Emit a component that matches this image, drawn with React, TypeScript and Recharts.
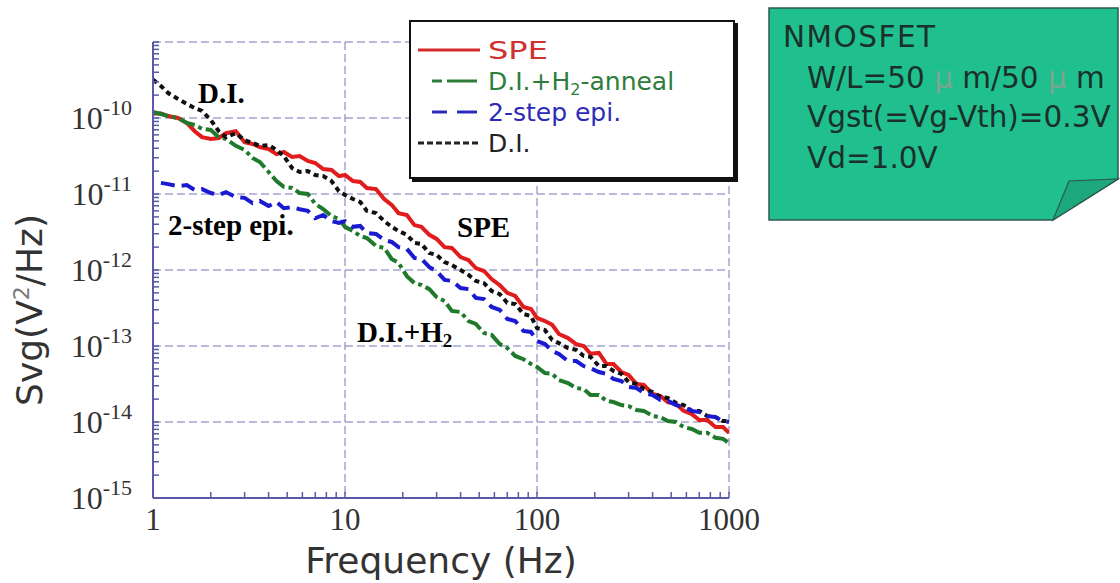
import React from "react";
import { LineChart, Line, XAxis, YAxis, CartesianGrid, Legend, Label } from "recharts";

const SERIF = "'Liberation Serif', 'Times New Roman', serif";
const SANS = "'DejaVu Sans', Verdana, sans-serif";
const FRAME = "#5a5aa8";
const GRID = "#7474b8";

// frequency grid (Hz)
const freq = [
  1, 1.1, 1.2, 1.35, 1.5, 1.65, 1.8, 2, 2.2, 2.4,
  2.7, 3, 3.3, 3.6, 4, 4.4, 4.8, 5.3, 5.8, 6.4,
  7, 7.7, 8.5, 9.3, 10, 11, 12, 13, 14.5, 16,
  17.5, 19, 21, 23, 25, 27.5, 30, 33, 36, 40,
  44, 48, 53, 58, 64, 70, 77, 85, 93, 100,
  110, 120, 130, 145, 160, 175, 190, 210, 230, 250,
  275, 300, 330, 360, 400, 440, 480, 530, 580, 640,
  700, 770, 850, 930, 1000,
];

// Svg (V^2/Hz)
const spe = [
  1.15e-10, 1.15e-10, 1.06e-10, 1.0e-10, 8.6e-11, 6.7e-11, 5.6e-11, 5.3e-11, 5.45e-11, 6.3e-11,
  6.7e-11, 4.8e-11, 4.55e-11, 4.15e-11, 3.9e-11, 3.35e-11, 3.57e-11, 3.07e-11, 3.16e-11, 2.72e-11,
  2.56e-11, 2.13e-11, 2.07e-11, 1.72e-11, 1.78e-11, 1.48e-11, 1.44e-11, 1.2e-11, 1.16e-11, 8.6e-12,
  7.2e-12, 5.6e-12, 5.3e-12, 3.9e-12, 3.7e-12, 2.9e-12, 2.56e-12, 2.0e-12, 1.95e-12, 1.48e-12,
  1.35e-12, 1.06e-12, 9.7e-13, 7.6e-13, 6.3e-13, 5.0e-13, 4.55e-13, 3.26e-13, 3.07e-13, 2.34e-13,
  2.13e-13, 1.9e-13, 1.44e-13, 1.27e-13, 1.06e-13, 1.0e-13, 7.9e-14, 8.1e-14, 5.8e-14, 5.8e-14,
  4.55e-14, 4.15e-14, 3.16e-14, 3.07e-14, 2.34e-14, 2.2e-14, 1.83e-14, 1.72e-14, 1.4e-14, 1.27e-14,
  1.06e-14, 1.06e-14, 8.6e-15, 8.6e-15, 7.2e-15,
];

const diH2 = [
  1.2e-10, 1.13e-10, 1.06e-10, 1.0e-10, 8.6e-11, 8.1e-11, 7.2e-11, 6.95e-11, 5.6e-11, 5.3e-11,
  4.3e-11, 3.8e-11, 2.98e-11, 2.64e-11, 1.95e-11, 1.48e-11, 1.24e-11, 1.2e-11, 1.03e-11, 1.0e-11,
  7.4e-12, 6.35e-12, 5.1e-12, 4.7e-12, 3.7e-12, 3.26e-12, 2.8e-12, 2.64e-12, 2.07e-12, 1.95e-12,
  1.4e-12, 1.24e-12, 8.3e-13, 6.7e-13, 6.35e-13, 5.6e-13, 4.4e-13, 3.9e-13, 2.9e-13, 2.8e-13,
  2.13e-13, 1.95e-13, 1.48e-13, 1.4e-13, 1.06e-13, 9.4e-14, 7.4e-14, 6.7e-14, 5.8e-14, 5.3e-14,
  4.4e-14, 4.3e-14, 3.57e-14, 3.26e-14, 2.8e-14, 2.72e-14, 2.27e-14, 2.27e-14, 1.9e-14, 1.83e-14,
  1.67e-14, 1.62e-14, 1.44e-14, 1.4e-14, 1.2e-14, 1.16e-14, 1.03e-14, 1.0e-14, 8.6e-15, 8.1e-15,
  7.2e-15, 7.2e-15, 6.2e-15, 6.0e-15, 5.3e-15,
];

const twoStepEpi = [
  null, 1.4e-11, 1.35e-11, 1.27e-11, 1.31e-11, 1.13e-11, 1.16e-11, 1.03e-11, 9.7e-12, 1.06e-11,
  9.1e-12, 8.9e-12, 7.6e-12, 8.1e-12, 6.95e-12, 7.85e-12, 6.5e-12, 6.7e-12, 6.3e-12, 6.0e-12,
  4.8e-12, 5.3e-12, 4.4e-12, 4.15e-12, 4.4e-12, 3.7e-12, 3.8e-12, 3.07e-12, 2.98e-12, 2.48e-12,
  2.34e-12, 2.0e-12, 1.9e-12, 1.44e-12, 1.4e-12, 1.09e-12, 9.7e-13, 7.4e-13, 7.2e-13, 5.8e-13,
  5.6e-13, 4.3e-13, 4.15e-13, 3.26e-13, 2.98e-13, 2.27e-13, 2.13e-13, 1.58e-13, 1.53e-13, 1.16e-13,
  1.06e-13, 8.6e-14, 7.85e-14, 6.35e-14, 6.35e-14, 5.45e-14, 5.1e-14, 4.55e-14, 4.3e-14, 3.7e-14,
  3.46e-14, 2.9e-14, 2.8e-14, 2.41e-14, 2.27e-14, 1.95e-14, 1.9e-14, 1.67e-14, 1.58e-14, 1.4e-14,
  1.35e-14, 1.2e-14, 1.16e-14, 1.03e-14, 1.0e-14,
];

const di = [
  3.2e-10, 2.64e-10, 2.13e-10, 1.78e-10, 1.53e-10, 1.35e-10, 1.24e-10, 9.4e-11, 6.7e-11, 5.6e-11,
  6.3e-11, 5.1e-11, 4.7e-11, 4.3e-11, 4.4e-11, 3.8e-11, 3.16e-11, 2.2e-11, 1.95e-11, 2.0e-11,
  1.78e-11, 1.72e-11, 1.48e-11, 1.09e-11, 9.7e-12, 8.6e-12, 7.85e-12, 6.0e-12, 5.6e-12, 4.4e-12,
  3.7e-12, 3.26e-12, 2.9e-12, 2.27e-12, 2.2e-12, 1.67e-12, 1.58e-12, 1.27e-12, 1.16e-12, 1.0e-12,
  8.6e-13, 7.2e-13, 6.7e-13, 5.3e-13, 4.8e-13, 3.7e-13, 3.57e-13, 2.64e-13, 2.48e-13, 1.72e-13,
  1.62e-13, 1.2e-13, 1.09e-13, 9.4e-14, 8.9e-14, 7.4e-14, 7.2e-14, 5.45e-14, 5.45e-14, 4.7e-14,
  4.3e-14, 3.36e-14, 3.16e-14, 2.72e-14, 2.48e-14, 2.13e-14, 2.07e-14, 1.78e-14, 1.67e-14, 1.4e-14,
  1.4e-14, 1.2e-14, 1.16e-14, 1.03e-14, 1.03e-14,
];

const xTicks = [1, 10, 100, 1000];
const xTickLabels = ["1", "10", "100", "1000"];
const yTicks = [1e-15, 1e-14, 1e-13, 1e-12, 1e-11, 1e-10];
const yTickExp = ["-15", "-14", "-13", "-12", "-11", "-10"];

// minor (log) tick positions for the frame
const mantissas = [1, 2, 3, 4, 5, 6, 7, 8, 9];
const xMinor = [...[1, 10, 100].flatMap((d) => mantissas.map((m) => m * d)), 1000];
const yMinor = [...yTicks.flatMap((d) => mantissas.map((m) => m * d)), 1e-9];

const rows = freq.map((f, i) => ({
  f,
  spe: spe[i],
  diH2: diH2[i],
  epi: twoStepEpi[i],
  di: di[i],
}));

const TICK_LEN = 6;

const BottomTick = (props: any) => {
  const { x, y, payload } = props;
  const i = xTicks.indexOf(payload.value);
  return (
    <g>
      <line x1={x} x2={x} y1={y} y2={y - TICK_LEN} stroke={FRAME} strokeWidth={1.5} />
      {i >= 0 && (
        <text x={x} y={y + 32} textAnchor="middle" fontFamily={SERIF} fontSize={31} fill="#333">
          {xTickLabels[i]}
        </text>
      )}
    </g>
  );
};

const TopTick = (props: any) => {
  const { x, y } = props;
  return <line x1={x} x2={x} y1={y} y2={y + TICK_LEN} stroke={FRAME} strokeWidth={1.5} />;
};

const LeftTick = (props: any) => {
  const { x, y, payload } = props;
  const i = yTicks.indexOf(payload.value);
  return (
    <g>
      <line x1={x} x2={x + TICK_LEN} y1={y} y2={y} stroke={FRAME} strokeWidth={1.5} />
      {i >= 0 && (
        <text x={x - 21} y={y + 11} textAnchor="end" fontFamily={SERIF} fontSize={32} fill="#333">
          10
          <tspan dy={-14} fontSize={22}>{yTickExp[i]}</tspan>
        </text>
      )}
    </g>
  );
};

const RightTick = (props: any) => {
  const { x, y } = props;
  return <line x1={x} x2={x - TICK_LEN} y1={y} y2={y} stroke={FRAME} strokeWidth={1.5} />;
};

const XTitle = (props: any) => {
  const vb = props.viewBox;
  return (
    <text x={vb.x + vb.width / 2} y={vb.y + 75} textAnchor="middle" fontFamily={SANS} fontSize={36} fill="#333">
      Frequency (Hz)
    </text>
  );
};

const YTitle = (props: any) => {
  const vb = props.viewBox;
  const cy = vb.y + 268;
  return (
    <text transform="rotate(-90)" x={-cy} y={42} textAnchor="middle" fontFamily={SANS} fontSize={36} fill="#333">
      Svg(V
      <tspan dy={-13} fontSize={22} fill="#777">2</tspan>
      <tspan dy={13}>/Hz)</tspan>
    </text>
  );
};

const LegendBox = () => (
  <div
    style={{
      width: 326,
      height: 159,
      background: "#fff",
      border: "2px solid #111",
      boxShadow: "3px 3px 0 #111",
      boxSizing: "border-box",
    }}
  >
    <svg width={322} height={155} style={{ display: "block" }}>
      <g fontFamily={SANS} fontSize={25}>
        <line x1={7} x2={69} y1={28} y2={28} stroke="#d42a2a" strokeWidth={3} />
        <text x={77} y={37} fill="#d03030" textLength={60} lengthAdjust="spacingAndGlyphs">SPE</text>

        <line x1={21} x2={31} y1={59} y2={59} stroke="#2e7d3a" strokeWidth={3} />
        <line x1={36} x2={66} y1={59} y2={59} stroke="#2e7d3a" strokeWidth={3} />
        <text x={77} y={68} fill="#2e7d3a">
          D.I.+H<tspan dy={5} fontSize={16}>2</tspan>
          <tspan dy={-5}>-anneal</tspan>
        </text>

        <line x1={21} x2={36} y1={90} y2={90} stroke="#2b2bc0" strokeWidth={3} />
        <line x1={46} x2={66} y1={90} y2={90} stroke="#2b2bc0" strokeWidth={3} />
        <text x={77} y={99} fill="#2b2bb8">2-step epi.</text>

        <line x1={7} x2={69} y1={121} y2={121} stroke="#222" strokeWidth={3} strokeDasharray="6 3" />
        <text x={77} y={130} fill="#222">D.I.</text>
      </g>
    </svg>
  </div>
);

const Overlay = () => (
  <svg width={1120} height={583} style={{ position: "absolute", left: 0, top: 0, pointerEvents: "none" }}>
    {/* annotations */}
    <g fontFamily={SERIF} fontWeight="bold" fontSize={29} fill="#000">
      <text x={198} y={103}>D.I.</text>
      <text x={168} y={235}>2-step epi.</text>
      <text x={457} y={237}>SPE</text>
      <text x={357} y={342}>
        D.I.+H<tspan dy={5} fontSize={19}>2</tspan>
      </text>
    </g>

    {/* condition note */}
    <polygon points="769,8 1118,8 1118,179 1053,220 769,220" fill="#20c08e" stroke="#2c5a4c" strokeWidth={1.5} />
    <polygon points="1053,220 1069,181 1118,179" fill="#1ca77c" stroke="#2c5a4c" strokeWidth={1.2} />
    <g fontFamily={SANS} fontSize={29.5} fill="#1b302a">
      <text x={783} y={47} letterSpacing={1.5}>NMOSFET</text>
      <text x={807} y={88}>
        W/L=50<tspan fill="#7ba58f"> μ </tspan>m/50<tspan fill="#7ba58f"> μ </tspan>m
      </text>
      <text x={807} y={127}>Vgst(=Vg-Vth)=0.3V</text>
      <text x={807} y={168}>Vd=1.0V</text>
    </g>
  </svg>
);

export default function App() {
  return (
    <div style={{ position: "absolute", left: 0, top: 0, width: 1120, height: 583, background: "#fff" }}>
      <LineChart width={1120} height={583} data={rows} margin={{ top: 42, right: 391, bottom: 25, left: 53 }}>
        {/* hidden decade axes drive the dashed grid */}
        <XAxis xAxisId="gridX" hide dataKey="f" type="number" scale="log" domain={[1, 1000]} ticks={xTicks} interval={0} allowDataOverflow />
        <YAxis yAxisId="gridY" hide type="number" scale="log" domain={[1e-15, 1e-9]} ticks={yTicks} interval={0} allowDataOverflow />
        <CartesianGrid xAxisId="gridX" yAxisId="gridY" stroke={GRID} strokeDasharray="8 4" strokeWidth={1} />

        <XAxis
          dataKey="f"
          type="number"
          scale="log"
          domain={[1, 1000]}
          ticks={xMinor}
          interval={0}
          allowDataOverflow
          height={60}
          axisLine={{ stroke: FRAME, strokeWidth: 2 }}
          tickLine={false}
          tickSize={0}
          tickMargin={0}
          tick={BottomTick}
        >
          <Label content={XTitle} />
        </XAxis>
        <YAxis
          type="number"
          scale="log"
          domain={[1e-15, 1e-9]}
          ticks={yMinor}
          interval={0}
          allowDataOverflow
          width={100}
          axisLine={{ stroke: FRAME, strokeWidth: 2 }}
          tickLine={false}
          tickSize={0}
          tickMargin={0}
          tick={LeftTick}
        >
          <Label content={YTitle} />
        </YAxis>
        <XAxis
          xAxisId="top"
          orientation="top"
          dataKey="f"
          type="number"
          scale="log"
          domain={[1, 1000]}
          ticks={xMinor}
          interval={0}
          allowDataOverflow
          height={0}
          axisLine={{ stroke: FRAME, strokeWidth: 2 }}
          tickLine={false}
          tickSize={0}
          tickMargin={0}
          tick={TopTick}
        />
        <YAxis
          yAxisId="right"
          orientation="right"
          type="number"
          scale="log"
          domain={[1e-15, 1e-9]}
          ticks={yMinor}
          interval={0}
          allowDataOverflow
          width={0}
          axisLine={{ stroke: FRAME, strokeWidth: 2 }}
          tickLine={false}
          tickSize={0}
          tickMargin={0}
          tick={RightTick}
        />

        <Line dataKey="spe" name="SPE" stroke="#e01c1c" strokeWidth={4} dot={false} isAnimationActive={false} />
        <Line
          dataKey="diH2"
          name="D.I.+H2-anneal"
          stroke="#1f7a2c"
          strokeWidth={4}
          strokeDasharray="16 4 4 4"
          dot={false}
          isAnimationActive={false}
        />
        <Line
          dataKey="di"
          name="D.I."
          stroke="#111"
          strokeWidth={4}
          strokeDasharray="5 4"
          dot={false}
          isAnimationActive={false}
        />
        <Line
          dataKey="epi"
          name="2-step epi."
          stroke="#1a1ad0"
          strokeWidth={4}
          strokeDasharray="14 7"
          dot={false}
          isAnimationActive={false}
        />

        <Legend
          layout="vertical"
          align="center"
          verticalAlign="middle"
          wrapperStyle={{ position: "absolute", left: 409, top: 20, width: 329, height: 162, margin: 0 }}
          content={() => <LegendBox />}
        />
      </LineChart>
      <Overlay />
    </div>
  );
}
